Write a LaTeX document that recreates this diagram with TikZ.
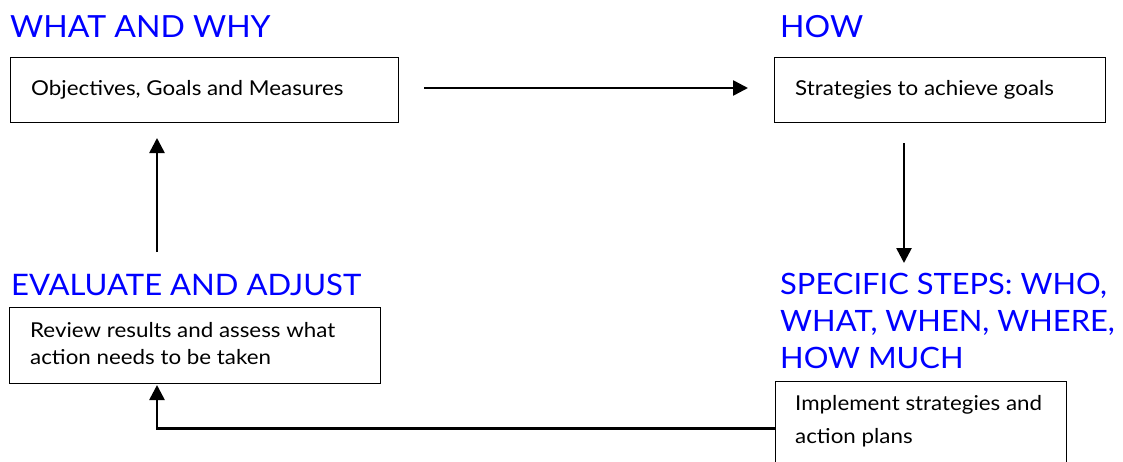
\documentclass[tikz,border=0pt]{standalone}
\usepackage{fontspec}
\setmainfont{Lato}
\newfontfamily\ttlfont[FakeStretch=1.05]{Lato}
\newfontfamily\bodyfont[FakeStretch=1.09]{Lato}
\usetikzlibrary{arrows.meta}
\definecolor{ttlblue}{RGB}{0,0,255}
\tikzset{
  box/.style={draw=black, line width=1.4pt, rectangle, inner sep=0pt, anchor=north west},
  ttl/.style={text=ttlblue, font=\ttlfont\fontsize{30.5}{37}\selectfont, anchor=base west, inner sep=0pt, align=left},
  body/.style={text=black, font=\bodyfont\fontsize{20.5}{27}\selectfont, anchor=base west, inner sep=0pt, align=left},
  arr/.style={line width=2.6pt, -{Triangle[length=15pt,width=15pt]}}
}
\begin{document}
\begin{tikzpicture}[x=1pt,y=-1pt]
\useasboundingbox[fill=white] (0,0) rectangle (1123,461);
% titles
\node[ttl] (h1) at (10,37) {WHAT AND WHY};
\node[ttl] (h2) at (780,37) {HOW};
\node[ttl, font=\ttlfont\fontsize{29.6}{37}\selectfont] (h3) at (11,295) {EVALUATE AND ADJUST};
\node[ttl, font=\ttlfont\fontsize{29.4}{37}\selectfont, anchor=north west] (h4) at (780,273) {SPECIFIC STEPS: WHO,\\WHAT, WHEN, WHERE,\\HOW MUCH};
% boxes
\node[box, minimum width=388pt, minimum height=65pt] (b1) at (10,57) {};
\node[box, minimum width=331pt, minimum height=65pt] (b2) at (774,57) {};
\node[box, minimum width=371pt, minimum height=76pt] (b3) at (9,307) {};
\node[box, minimum width=291pt, minimum height=94pt] (b4) at (775,381) {};
% box texts
\node[body] (t1) at (31,95) {Objectives, Goals and Measures};
\node[body] (t2) at (795,95) {Strategies to achieve goals};
\node[body] (t3a) at (30,337) {Review results and assess what};
\node[body] (t3b) at (30,364) {action needs to be taken};
\node[body] (t4a) at (795,410) {Implement strategies and};
\node[body] (t4b) at (795,443) {action plans};
% connectors
\coordinate (hs) at (424,88);
\coordinate (he) at (748,88);
\draw[arr] (hs) -- (he);
\coordinate (ds) at (904,143);
\coordinate (de) at (904,263);
\draw[arr] (ds) -- (de);
\coordinate (us) at (157,252);
\coordinate (ue) at (157,138);
\draw[arr] (us) -- (ue);
\coordinate (c3) at (157,385);
\draw[arr] (b4.west) -| (c3);
\end{tikzpicture}
\end{document}
